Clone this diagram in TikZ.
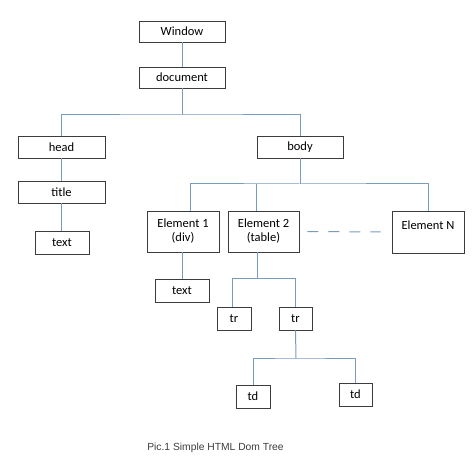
\documentclass[tikz,border=0pt]{standalone}
\usepackage{fontspec}
\setmainfont{Carlito}
\newfontfamily\capfont{Liberation Sans}
\definecolor{linkblue}{RGB}{120,155,192}
\definecolor{boxgray}{RGB}{60,60,60}

\begin{document}
\begin{tikzpicture}[x=1pt,y=-1pt,
  box/.style={draw=boxgray,line width=0.9pt,inner sep=0pt,align=center,
    font=\fontsize{12.5}{14}\selectfont},
  link/.style={draw=linkblue,line width=1pt}]
  \useasboundingbox (0,0) rectangle (474,465);
  % boxes
  \node[box,minimum width=86,minimum height=21] (win) at (182,31.5) {Window};
  \node[box,minimum width=86,minimum height=21] (doc) at (182,77.5) {document};
  \node[box,minimum width=87,minimum height=22] (head) at (61.5,147) {head};
  \node[box,minimum width=86,minimum height=22] (body) at (300,147) {body};
  \node[box,minimum width=87,minimum height=22] (title) at (61.5,192) {title};
  \node[box,minimum width=54,minimum height=23] (txta) at (62,242.5) {text};
  \node[box,minimum width=72,minimum height=41] (el1) at (183,231.5) {Element 1\\(div)};
  \node[box,minimum width=71,minimum height=41] (el2) at (263.5,231.5) {Element 2\\(table)};
  \node[box,minimum width=72,minimum height=42] (elN) at (428,232) {Element N\\\mbox{}};
  \node[box,minimum width=54,minimum height=23] (txtb) at (182,290.5) {text};
  \node[box,minimum width=34,minimum height=23] (tra) at (234,318.5) {tr};
  \node[box,minimum width=33,minimum height=23] (trb) at (295.5,318.5) {tr};
  \node[box,minimum width=34,minimum height=23] (tda) at (253,396.5) {td};
  \node[box,minimum width=33,minimum height=23] (tdb) at (355.5,394.5) {td};
  \node[font=\capfont\fontsize{10.3}{12}\selectfont,text=boxgray] (cap) at (215.5,447.5) {Pic.1 Simple HTML Dom Tree};
  % links
  \coordinate (jdoc) at (182,115);
  \coordinate (jbody) at (300,184);
  \coordinate (jel2) at (257,278.5);
  \coordinate (jtr) at (296,358);
  \draw[link] (win) -- (doc);
  \draw[link] (doc.south) -- (jdoc);
  \draw[link] (head.north) |- (jdoc) -| (body.north);
  \draw[link] (head) -- (title);
  \draw[link] (title.south) -- (title.south |- txta.north);
  \draw[link] (body.south) -- (jbody);
  \draw[link] ([xshift=7pt]el1.north) |- (jbody) -| (elN.north);
  \draw[link] ([xshift=-7.5pt]el2.north) -- ([xshift=-7.5pt]el2.north |- jbody);
  \draw[link,dash pattern=on 11pt off 10pt] ([xshift=8pt]el2.east) -- ([xshift=-11pt]elN.west);
  \draw[link] (el1.south -| txtb) -- (txtb.north);
  \draw[link] ([xshift=-6.5pt]el2.south) -- (jel2);
  \draw[link] ([xshift=-2pt]tra.north) |- (jel2) -| (trb.north);
  \draw[link] (trb.south) -- (jtr);
  \draw[link] (tda.north) |- (jtr) -| (tdb.north);
\end{tikzpicture}
\end{document}
